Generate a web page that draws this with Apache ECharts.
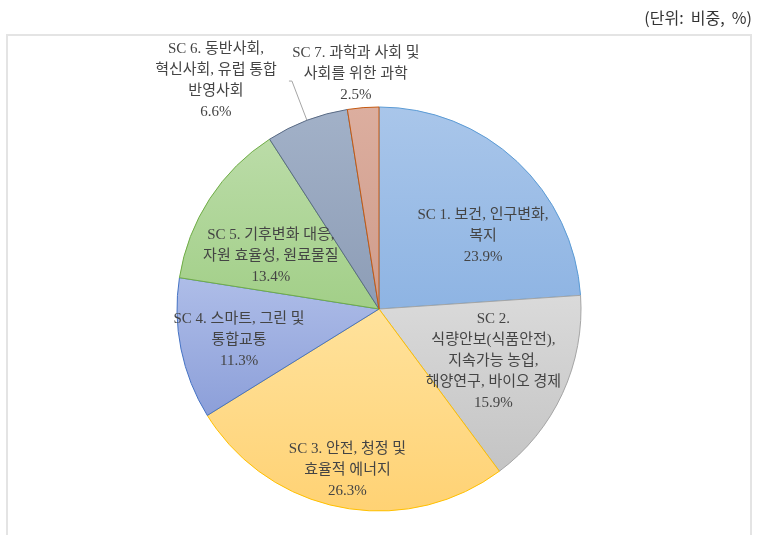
<!DOCTYPE html>
<html>
<head>
<meta charset="utf-8">
<script src="https://cdn.jsdelivr.net/npm/echarts@6/dist/echarts.min.js"></script>
<style>html,body{margin:0;padding:0;background:#fff}#c{width:777px;height:535px}</style>
</head>
<body>
<div id="c"></div>
<script>
const categories = [
  'SC 1. 보건, 인구변화,\n복지',
  'SC 2.\n식량안보(식품안전),\n지속가능 농업,\n해양연구, 바이오 경제',
  'SC 3. 안전, 청정 및\n효율적 에너지',
  'SC 4. 스마트, 그린 및\n통합교통',
  'SC 5. 기후변화 대응,\n자원 효율성, 원료물질',
  'SC 6. 동반사회,\n혁신사회, 유럽 통합\n반영사회',
  'SC 7. 과학과 사회 및\n사회를 위한 과학'
];
const values = [23.9, 15.9, 26.3, 11.3, 13.4, 6.6, 2.5];
const unitLabel = '(단위:  비중,  %)';

// styles
const fillTop = ['#a9c6ea', '#dadada', '#ffe29c', '#aebde8', '#bbdca8', '#a2b1c8', '#dcae9f'];
const fillBot = ['#8eb4e3', '#c4c4c4', '#ffd274', '#8c9fd9', '#a2cf88', '#8d9db6', '#cf9c8b'];
const borders = ['#5b9bd5', '#a5a5a5', '#ffc000', '#4472c4', '#70ad47', '#5a6b85', '#c55a11'];
const labelShift = [[33, 3], [20, 8], [-12, 59], [-38, 10], [-21, 4], [0, 0], [-15, -131]];

const FONT = '"Liberation Serif", "Noto Sans CJK KR", serif';
const TXT = '#444444';

const data = categories.map((c, i) => {
  const item = {
    name: c,
    value: values[i],
    itemStyle: {
      color: new echarts.graphic.LinearGradient(0, 0, 0, 1, [
        {offset: 0, color: fillTop[i]}, {offset: 1, color: fillBot[i]}
      ]),
      borderColor: borders[i],
      borderWidth: 1
    }
  };
  if (i === 5) {
    item.label = {
      position: 'outside',
      distanceToLabelLine: 3,
      formatter: p => p.name.split('\n').map(s => '{c|' + s + '}').join('\n') + '\n{c|' + p.value.toFixed(1) + '%}',
      rich: {c: {width: 140, align: 'center', fontSize: 15, lineHeight: 21, color: TXT, fontFamily: FONT}}
    };
    item.labelLine = {show: true, length: 42, length2: 3, lineStyle: {color: '#a6a6a6', width: 1}};
  }
  return item;
});

const chart = echarts.init(document.getElementById('c'), null, {renderer: 'canvas'});
chart.setOption({
  animation: false,
  backgroundColor: '#fff',
  title: {
    text: unitLabel, right: 20, top: 5,
    textStyle: {fontSize: 16, fontWeight: 'normal', color: '#333', fontFamily: '"Noto Sans CJK KR", sans-serif'}
  },
  graphic: [{
    type: 'rect', shape: {x: 7, y: 35, width: 744, height: 520},
    style: {fill: 'none', stroke: '#e4e4e4', lineWidth: 2}, silent: true, z: -10
  }],
  series: [{
    type: 'pie',
    center: [379, 309],
    radius: 202,
    startAngle: 90,
    clockwise: true,
    data: data,
    label: {
      show: true,
      position: 'inside',
      formatter: p => p.name + '\n' + p.value.toFixed(1) + '%',
      fontSize: 15,
      lineHeight: 21,
      color: TXT,
      fontFamily: FONT
    },
    labelLine: {show: false},
    labelLayout: function (p) {
      const s = labelShift[p.dataIndex];
      if (!s || (s[0] === 0 && s[1] === 0)) return {};
      return {dx: s[0], dy: s[1]};
    },
    emphasis: {disabled: true}
  }]
});
</script>
</body>
</html>
